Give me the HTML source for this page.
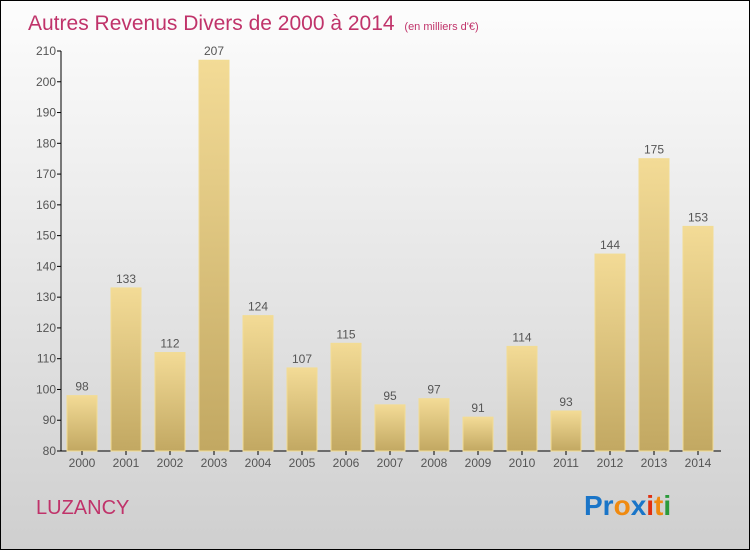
<!DOCTYPE html>
<html><head><meta charset="utf-8"><style>
body{margin:0}
#c{position:relative;width:748px;height:548px;border:1px solid #000;background:linear-gradient(#fdfdfd,#cfcfcf);font-family:"Liberation Sans",sans-serif;overflow:hidden}
</style></head><body>
<div id="c">
<svg width="748" height="548" id="svg">
<defs><linearGradient id="bg" x1="0" y1="0" x2="0" y2="1"><stop offset="0" stop-color="#f3db96"/><stop offset="1" stop-color="#c2a862"/></linearGradient></defs>
<text x="27" y="29" font-size="21" fill="#c0336a">Autres Revenus Divers de 2000 à 2014 <tspan font-size="11" dx="4">(en milliers d'€)</tspan></text>
<text x="35" y="513" font-size="20" fill="#c0336a">LUZANCY</text>
<text x="583" y="514" font-size="28" font-weight="bold"><tspan fill="#1a75c8">Pr</tspan><tspan fill="#f08a10">o</tspan><tspan fill="#1a75c8">x</tspan><tspan fill="#e03010">i</tspan><tspan fill="#f08a10">t</tspan><tspan fill="#2a9a3a">i</tspan></text>
<g id="g"></g>
</svg></div>
<script>
const years=["2000","2001","2002","2003","2004","2005","2006","2007","2008","2009","2010","2011","2012","2013","2014"];
const values=[98,133,112,207,124,107,115,95,97,91,114,93,144,175,153];
const ticks=[80,90,100,110,120,130,140,150,160,170,180,190,200,210];
const ns="http://www.w3.org/2000/svg",g=document.getElementById('g');
const y=v=>450-(v-80)*400/130, x=i=>81+i*44;
function mk(t,a,txt){const e=document.createElementNS(ns,t);for(const k in a)e.setAttribute(k,a[k]);if(txt!=null)e.textContent=txt;g.appendChild(e);return e;}
let ax=mk('line',{x1:60,y1:y(210),x2:60,y2:450,stroke:'#000'});

let bx=mk('line',{x1:60,y1:450,x2:720,y2:450,stroke:'#000'});

ticks.forEach(t=>{
 let l=mk('line',{x1:56,x2:60,y1:y(t),y2:y(t),stroke:'#000'});
 
 let tx=mk('text',{x:55,y:y(t)+4,'font-size':12,fill:'#555','text-anchor':'end'},t);
 
});
years.forEach((yr,i)=>{
 let v=values[i];
 let r=mk('rect',{x:x(i)-15,y:y(v),width:30,height:450-y(v),fill:'url(#bg)',stroke:'#f2dc94','stroke-width':1});
 
 let l=mk('text',{x:x(i),y:y(v)-5,'font-size':12,fill:'#555','text-anchor':'middle'},v);
 
 let tk=mk('line',{x1:x(i),x2:x(i),y1:450,y2:454,stroke:'#000'});
 
 let xl=mk('text',{x:x(i),y:466,'font-size':12,fill:'#555','text-anchor':'middle'},yr);
 
});
</script>
</body></html>
